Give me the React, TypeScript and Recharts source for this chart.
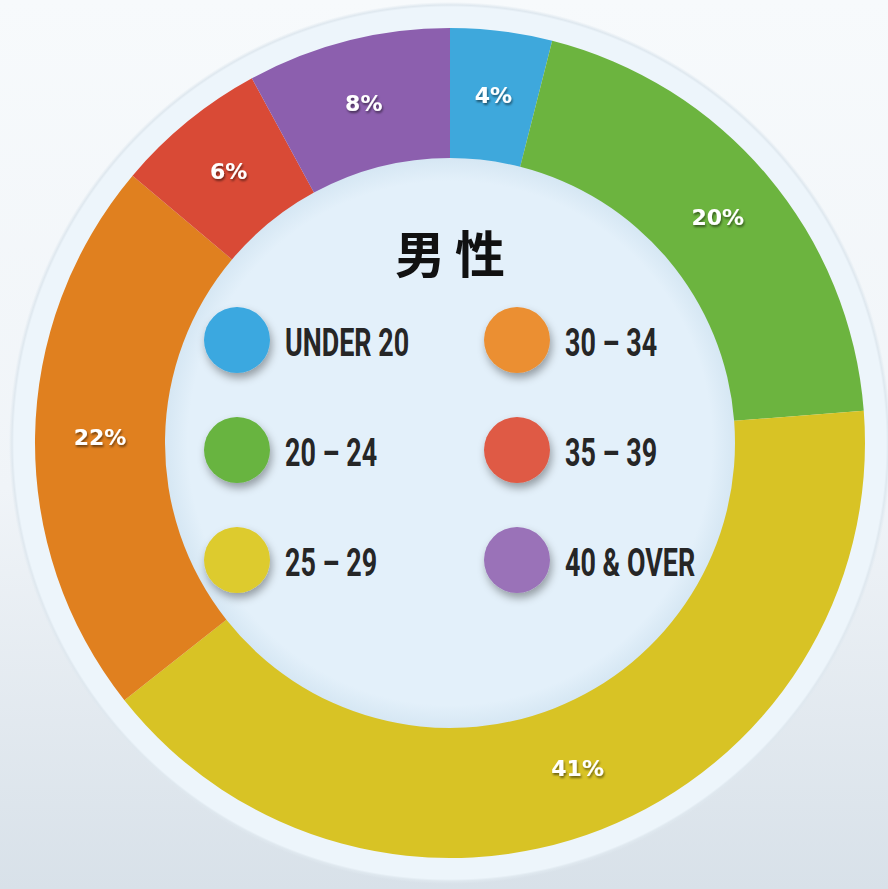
import { PieChart, Pie, Cell } from "recharts";

const categories = ["UNDER 20", "20 – 24", "25 – 29", "30 – 34", "35 – 39", "40 & OVER"];
const shares = [4, 20, 41, 22, 6, 8];
const sliceColors = ["#3ea8dc", "#6cb43f", "#d8c325", "#e0801f", "#d94a36", "#8c5fae"];
const dotColors = ["#3ba8e0", "#67b440", "#ddcb2d", "#eb8f33", "#df5a45", "#9a72b8"];
const title = "男性";

const data = categories.map((name, i) => ({ name, value: shares[i] }));

const RADIAN = Math.PI / 180;

const renderLabel = (props: any) => {
  const { cx, cy, midAngle, innerRadius, outerRadius, value } = props;
  const r = (innerRadius + outerRadius) / 2;
  const x = cx + r * Math.cos(-midAngle * RADIAN);
  const y = cy + r * Math.sin(-midAngle * RADIAN);
  return (
    <text
      x={x}
      y={y}
      textAnchor="middle"
      dominantBaseline="central"
      fontFamily="DejaVu Sans, sans-serif"
      fontWeight={700}
      fontSize={22}
      fill="#ffffff"
      filter="url(#labelShadow)"
    >
      {`${value}%`}
    </text>
  );
};

function Overlay() {
  return (
    <svg
      width={888}
      height={889}
      style={{ position: "absolute", left: 0, top: 0, pointerEvents: "none" }}
    >
      <defs>
        <filter id="dotShadow" x="-50%" y="-50%" width="200%" height="200%">
          <feDropShadow dx="2" dy="5" stdDeviation="4" floodColor="#000" floodOpacity="0.35" />
        </filter>
      </defs>
      <text
        x={455}
        y={273}
        textAnchor="middle"
        fontFamily="Noto Sans CJK JP, sans-serif"
        fontWeight={700}
        fontSize={50}
        letterSpacing={10}
        fill="#111"
      >
        {title}
      </text>
      {categories.map((name, i) => {
        const col = Math.floor(i / 3);
        const row = i % 3;
        const cx = 237 + col * 280;
        const cy = 340 + row * 110;
        return (
          <g key={name}>
            <circle cx={cx} cy={cy} r={33} fill={dotColors[i]} filter="url(#dotShadow)" />
            <text
              transform={`translate(${cx + 48},${cy + 16}) scale(0.69,1)`}
              fontFamily="Roboto, sans-serif"
              fontWeight={700}
              fontSize={39}
              fill="#262626"
            >
              {name}
            </text>
          </g>
        );
      })}
    </svg>
  );
}

export default function App() {
  return (
    <div
      style={{
        position: "absolute",
        left: 0,
        top: 0,
        width: 888,
        height: 889,
        overflow: "hidden",
        background:
          "radial-gradient(circle at 450px 443px, #e3f0fa 0px, #e3f0fa 262px, #d3e5f2 290px, #d3e5f2 300px, #edf5fb 300px, #edf5fb 436px, #dfe8ef 438px, rgba(240,245,249,0) 441px), linear-gradient(to bottom, #f7fafc 0%, #f0f4f8 55%, #d8e1e9 100%)",
      }}
    >
      <PieChart width={888} height={889} margin={{ top: 0, right: 0, bottom: 0, left: 0 }}>
        <defs>
          <filter id="labelShadow" x="-30%" y="-30%" width="160%" height="160%">
            <feDropShadow dx="1" dy="2" stdDeviation="1" floodColor="#000" floodOpacity="0.5" />
          </filter>
        </defs>
        <Pie
          data={data}
          dataKey="value"
          nameKey="name"
          cx={450}
          cy={443}
          innerRadius={285}
          outerRadius={415}
          startAngle={90}
          endAngle={-270}
          stroke="none"
          label={renderLabel}
          labelLine={false}
          isAnimationActive={false}
        >
          {data.map((d, i) => (
            <Cell key={d.name} fill={sliceColors[i]} />
          ))}
        </Pie>
      </PieChart>
      <Overlay />
    </div>
  );
}
